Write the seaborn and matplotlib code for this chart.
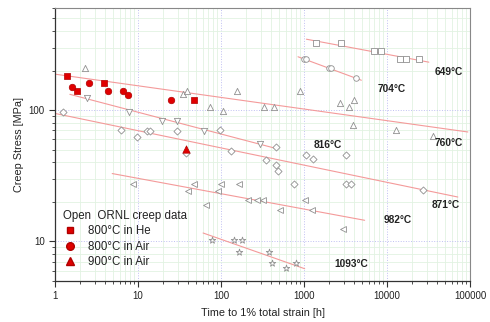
import numpy as np
import pandas as pd
import matplotlib
matplotlib.use("Agg")
import matplotlib.pyplot as plt
from matplotlib.ticker import LogLocator, FixedLocator, FixedFormatter, NullFormatter
from matplotlib.lines import Line2D
import seaborn as sns

sns.set_theme(style="white")
plt.rcParams['font.family'] = ['Liberation Sans', 'DejaVu Sans']

# ---------------- data ----------------
# open ORNL creep data (time [h], stress [MPa])
t649 = [1394, 2766, 7031, 8450, 14300, 16900, 24200]
s649 = [323, 323, 282, 282, 245, 245, 245]

t704 = [1000, 1050, 2000, 2100, 4270]
s704 = [245, 245, 209, 209, 175]

t760 = [2.30, 34.4, 38.8, 72.7, 107, 156, 330, 436, 895, 2711, 3451, 4040, 3930, 12800, 35700]
s760 = [210, 132, 140, 105, 98.8, 140, 105, 105, 140, 114, 105, 120, 76.8, 70.3, 63.4]

t816 = [2.45, 7.71, 19.4, 29.1, 62.6, 296]
s816 = [124, 96.5, 82.8, 82.8, 69.1, 55.0]

t871 = [1.24, 6.28, 9.62, 13.0, 13.9, 29.1, 96.8, 133, 463, 1062, 1283, 353, 457, 487,
        3220, 758, 3240, 3700, 26800, 37.4]
s871 = [96.5, 70.0, 62.5, 69.5, 69.7, 69.7, 70.1, 48.7, 52.2, 45.3, 42.3, 41.5, 38.0, 34.4,
        45.3, 27.5, 27.5, 27.5, 24.8, 47]

t982 = [8.61, 47.1, 40.2, 92.8, 99.5, 165, 65.1, 210, 275, 320, 514, 1025, 1256, 2946]
s982 = [27.5, 27.5, 24.1, 24.1, 27.5, 27.5, 19.1, 20.7, 20.7, 20.7, 17.3, 20.7, 17.3, 12.4]

t1093 = [77.5, 145, 180, 167, 383, 414, 614, 794]
s1093 = [10.3, 10.3, 10.3, 8.28, 8.28, 6.87, 6.25, 6.87]

# new data
t800he = [1.41, 1.82, 3.86, 47.1]
s800he = [181, 140, 161, 120]
t800air = [1.61, 2.57, 4.34, 6.53, 7.50, 25.1]
s800air = [151, 160, 140, 140, 131, 120]
t900air = [38.4]
s900air = [50.4]

# fit lines (endpoints)
fit_t = {"649": [1069, 31900], "704": [847, 4910], "760": [1.0, 94200],
         "816": [1.51, 465], "871": [1.0, 71300], "982": [4.89, 5375],
         "1093": [60.9, 1020]}
fit_s = {"649": [347, 232], "704": [255, 169], "760": [188, 68.2],
         "816": [132, 51], "871": [94.4, 21.8], "982": [32.9, 14.5],
         "1093": [11.6, 6.2]}

# temperature labels
lab_text = ["649°C", "704°C", "760°C", "816°C", "871°C", "982°C", "1093°C"]
lab_t = [55600, 11270, 55500, 1914, 50700, 13520, 3720]
lab_s = [195, 146, 56.2, 54.7, 19.1, 14.5, 6.76]

xticks = [1, 10, 100, 1000, 10000, 100000]
xticklabels = ["1", "10", "100", "1000", "10000", "100000"]
yticks = [10, 100]
yticklabels = ["10", "100"]

# ---------------- figure ----------------
fig = plt.figure(figsize=(4.9, 3.22), dpi=100)
ax = fig.add_axes([55/490, 1-281/322, 415/490, (281-7.5)/322])
ax.set_xscale("log")
ax.set_yscale("log")
ax.set_xlim(1, 100000)
ax.set_ylim(5, 605)

# grid
ax.xaxis.set_minor_locator(LogLocator(base=10, subs=np.arange(2, 10)))
ax.yaxis.set_minor_locator(LogLocator(base=10, subs=np.arange(2, 10)))
ax.grid(True, which="minor", color="#e2f2e2", linewidth=0.6, linestyle="-")
ax.grid(True, which="major", color="#c0c0f2", linewidth=0.7, linestyle=":")
ax.set_axisbelow(True)

# fit lines
for k in fit_t:
    sns.lineplot(x=fit_t[k], y=fit_s[k], ax=ax, color="#f49a9a", linewidth=0.8,
                 legend=False, zorder=2)

open_sets = [(t649, s649, "s", 14), (t704, s704, "o", 16), (t760, s760, "^", 20),
             (t816, s816, "v", 20), (t871, s871, "D", 13), (t982, s982, "<", 18),
             (t1093, s1093, "*", 24)]
for tt, ss, m, size in open_sets:
    sns.scatterplot(x=tt, y=ss, ax=ax, marker=m, s=size, facecolor="white",
                    edgecolor="#909090", linewidth=0.6, zorder=3, legend=False)

red_sets = [(t800he, s800he, "s", 18), (t800air, s800air, "o", 22), (t900air, s900air, "^", 28)]
for tt, ss, m, sz in red_sets:
    sns.scatterplot(x=tt, y=ss, ax=ax, marker=m, s=sz, color="#e00000",
                    edgecolor="#b00000", linewidth=0.5, zorder=4, legend=False)

for txt, tx, sy in zip(lab_text, lab_t, lab_s):
    ax.text(tx, sy, txt, fontsize=7.3, fontweight="bold", ha="center", va="center",
            color="#222222", zorder=5)

# ticks
ax.xaxis.set_major_locator(FixedLocator(xticks))
ax.xaxis.set_major_formatter(FixedFormatter(xticklabels))
ax.xaxis.set_minor_formatter(NullFormatter())
ax.yaxis.set_major_locator(FixedLocator(yticks))
ax.yaxis.set_major_formatter(FixedFormatter(yticklabels))
ax.yaxis.set_minor_formatter(NullFormatter())
ax.tick_params(axis="both", which="major", direction="out", length=4, width=0.8,
               labelsize=7, color="#333333", labelcolor="#222222", bottom=True, left=True)
ax.tick_params(axis="both", which="minor", direction="out", length=2.5, width=0.6,
               color="#333333", bottom=True, left=True)

for side in ["left", "bottom"]:
    ax.spines[side].set_color("#333333")
    ax.spines[side].set_linewidth(0.9)
for side in ["top", "right"]:
    ax.spines[side].set_color("#888888")
    ax.spines[side].set_linewidth(0.8)

ax.set_xlabel("Time to 1% total strain [h]", fontsize=7.8, color="#222222", labelpad=5)
ax.set_ylabel("Creep Stress [MPa]", fontsize=7.8, color="#222222", labelpad=3)

handles = [
    Line2D([], [], marker="s", linestyle="none", color="#e00000", markeredgecolor="#b00000", markersize=5),
    Line2D([], [], marker="o", linestyle="none", color="#e00000", markeredgecolor="#b00000", markersize=5.5),
    Line2D([], [], marker="^", linestyle="none", color="#e00000", markeredgecolor="#b00000", markersize=6),
]
leg = ax.legend(handles, ["800°C in He", "800°C in Air", "900°C in Air"],
                title="Open  ORNL creep data", loc="upper left",
                bbox_to_anchor=(0.0, 0.29), frameon=False, fontsize=8.3,
                title_fontsize=8.3, alignment="left", handlelength=1.2,
                handletextpad=1.0, labelspacing=0.3, borderpad=0.2)
leg._legend_box.align = "left"
for t in leg.get_texts():
    t.set_color("#222222")
leg.get_title().set_color("#222222")

fig.savefig("out.png", dpi=100)
